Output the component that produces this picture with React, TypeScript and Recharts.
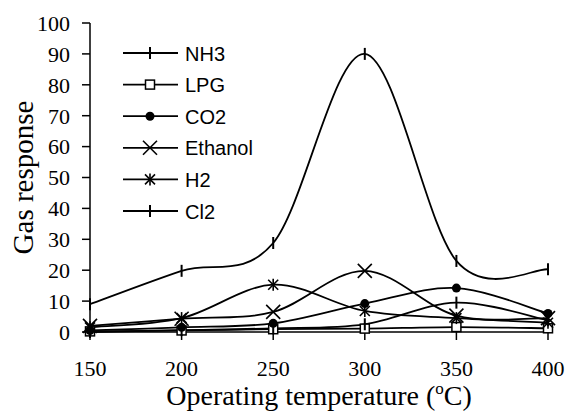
import { LineChart, Line, XAxis, YAxis, Legend, Label } from 'recharts';

const temps = [150, 200, 250, 300, 350, 400];
const nh3 = [9, 19.8, 28.8, 90, 23, 20.3];
const lpg = [0.2, 0.5, 0.9, 1.1, 1.6, 1.2];
const co2 = [0.5, 1.5, 2.8, 9.2, 14.2, 6];
const ethanol = [2, 4.3, 6.5, 19.8, 5.3, 4.5];
const h2 = [1.5, 4.5, 15.3, 6.8, 4.5, 3];
const cl2 = [0, 0.6, 1.2, 2.5, 9.5, 3.8];
const yTicks = [0, 10, 20, 30, 40, 50, 60, 70, 80, 90, 100];

const data = temps.map((t, i) => ({
  t,
  NH3: nh3[i],
  LPG: lpg[i],
  CO2: co2[i],
  Ethanol: ethanol[i],
  H2: h2[i],
  Cl2: cl2[i],
}));

const serif = '"Liberation Serif", "Times New Roman", serif';
const sans = '"Liberation Sans", Arial, sans-serif';

// smoothed line the way a spreadsheet draws it (catmull-rom through every point)
const smooth = (context: any) => {
  let pts: number[][] = [];
  return {
    areaStart() {},
    areaEnd() {},
    lineStart() {
      pts = [];
    },
    lineEnd() {
      const n = pts.length;
      if (!n) return;
      context.moveTo(pts[0][0], pts[0][1]);
      for (let i = 0; i < n - 1; i++) {
        const p0 = pts[Math.max(i - 1, 0)];
        const p1 = pts[i];
        const p2 = pts[i + 1];
        const p3 = pts[Math.min(i + 2, n - 1)];
        context.bezierCurveTo(
          p1[0] + (p2[0] - p0[0]) / 6,
          p1[1] + (p2[1] - p0[1]) / 6,
          p2[0] - (p3[0] - p1[0]) / 6,
          p2[1] - (p3[1] - p1[1]) / 6,
          p2[0],
          p2[1]
        );
      }
    },
    point(x: number, y: number) {
      pts.push([+x, +y]);
    },
  };
};

const Marker = ({ kind, cx, cy }: { kind: string; cx: number; cy: number }) => {
  if (kind === 'tick') {
    return <line x1={cx} x2={cx} y1={cy - 6} y2={cy + 6} stroke="#000" strokeWidth={2} />;
  }
  if (kind === 'square') {
    return <rect x={cx - 4.5} y={cy - 4.5} width={9} height={9} fill="#fff" stroke="#000" strokeWidth={1.5} />;
  }
  if (kind === 'circle') {
    return <circle cx={cx} cy={cy} r={4.5} fill="#000" />;
  }
  if (kind === 'x') {
    return (
      <g stroke="#000" strokeWidth={1.6}>
        <line x1={cx - 7} y1={cy - 7} x2={cx + 7} y2={cy + 7} />
        <line x1={cx - 7} y1={cy + 7} x2={cx + 7} y2={cy - 7} />
      </g>
    );
  }
  return (
    <g stroke="#000" strokeWidth={1.6}>
      <line x1={cx - 5} y1={cy - 5} x2={cx + 5} y2={cy + 5} />
      <line x1={cx - 5} y1={cy + 5} x2={cx + 5} y2={cy - 5} />
      <line x1={cx} y1={cy - 6} x2={cx} y2={cy + 6} />
    </g>
  );
};

const series = [
  { key: 'NH3', kind: 'tick' },
  { key: 'LPG', kind: 'square' },
  { key: 'CO2', kind: 'circle' },
  { key: 'Ethanol', kind: 'x' },
  { key: 'H2', kind: 'star' },
  { key: 'Cl2', kind: 'tick' },
];

const renderLegend = () => (
  <svg width={260} height={230}>
    {series.map((s, i) => {
      const y = 53 + i * 31.6;
      return (
        <g key={s.key}>
          <line x1={123} x2={178} y1={y} y2={y} stroke="#000" strokeWidth={1.8} />
          <Marker kind={s.kind} cx={150} cy={y} />
          <text x={185} y={y + 7.5} fontFamily={sans} fontSize={20} fill="#000">
            {s.key}
          </text>
        </g>
      );
    })}
  </svg>
);

const XTitle = ({ viewBox }: any) => {
  const cx = viewBox.x + viewBox.width / 2;
  return (
    <text x={cx} y={405} textAnchor="middle" fontFamily={serif} fontSize={28} fill="#000">
      Operating temperature (
      <tspan fontSize={17} dy={-11}>o</tspan>
      <tspan dy={11}>C)</tspan>
    </text>
  );
};

const YTitle = ({ viewBox }: any) => {
  const cy = viewBox.y + viewBox.height / 2;
  return (
    <text
      x={33}
      y={cy}
      transform={`rotate(-90, 33, ${cy})`}
      textAnchor="middle"
      fontFamily={serif}
      fontSize={29}
      fill="#000"
    >
      Gas response
    </text>
  );
};

export default function App() {
  return (
    <div style={{ position: 'absolute', left: 0, top: 0, background: '#fff' }}>
      <LineChart width={570} height={411} data={data} margin={{ top: 23, right: 22, left: 0, bottom: 0 }}>
        <XAxis
          dataKey="t"
          type="number"
          domain={[150, 400]}
          ticks={temps}
          interval={0}
          height={79}
          tickSize={8}
          tickMargin={20}
          axisLine={{ stroke: '#000', strokeWidth: 1.5 }}
          tickLine={{ stroke: '#000', strokeWidth: 1.5 }}
          tick={{ fill: '#000', fontFamily: serif, fontSize: 22 }}
        >
          <Label content={<XTitle />} />
        </XAxis>
        <YAxis
          type="number"
          domain={[0, 100]}
          ticks={yTicks}
          interval={0}
          width={90}
          tickSize={8}
          tickMargin={12}
          axisLine={{ stroke: '#000', strokeWidth: 1.5 }}
          tickLine={{ stroke: '#000', strokeWidth: 1.5 }}
          tick={{ fill: '#000', fontFamily: serif, fontSize: 22 }}
        >
          <Label content={<YTitle />} />
        </YAxis>
        <Legend
          layout="horizontal"
          verticalAlign="middle"
          align="center"
          content={renderLegend}
          wrapperStyle={{ left: 0, top: 0, width: 260, height: 230 }}
        />
        {series.map((s) => (
          <Line
            key={s.key}
            dataKey={s.key}
            type={smooth as any}
            stroke="#000"
            strokeWidth={1.8}
            isAnimationActive={false}
            dot={(p: any) => <Marker key={`${s.key}-${p.index}`} kind={s.kind} cx={p.cx} cy={p.cy} />}
            activeDot={false}
          />
        ))}
      </LineChart>
    </div>
  );
}
